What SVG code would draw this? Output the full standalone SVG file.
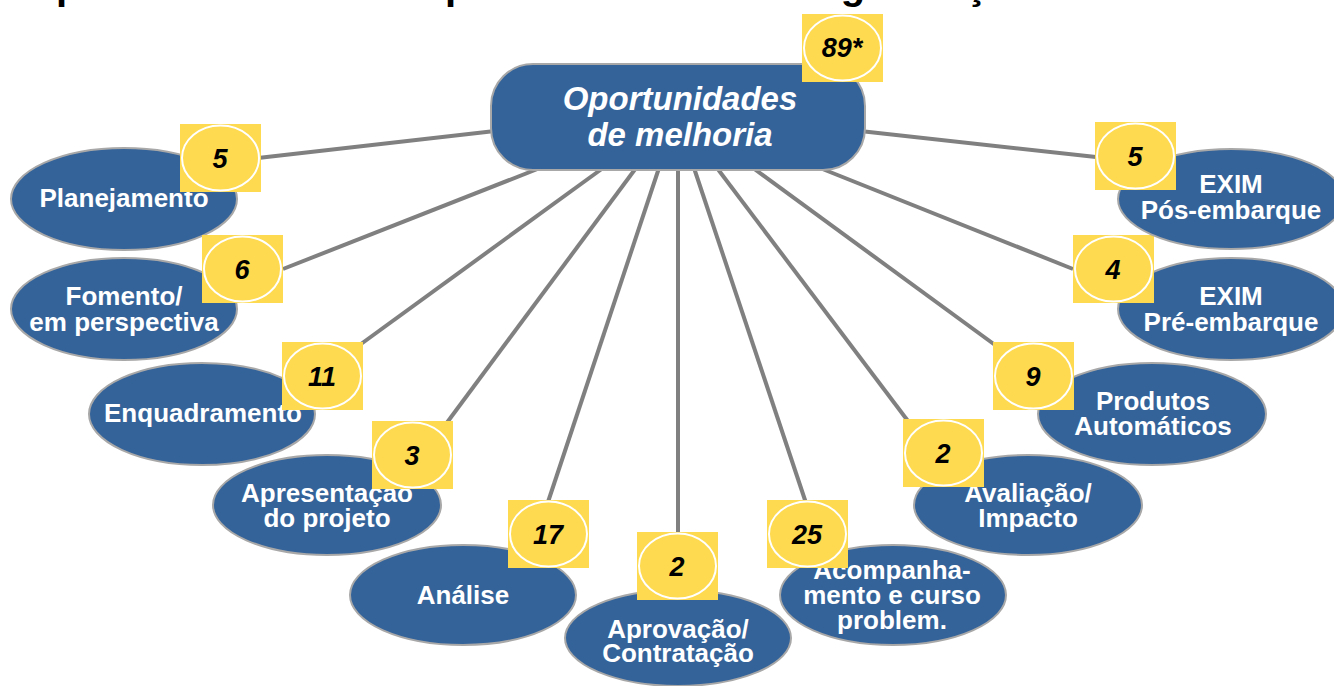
<svg xmlns="http://www.w3.org/2000/svg" width="1334" height="686" viewBox="0 0 1334 686">
<style>
.node{fill:#34639A;stroke:#A8A8A8;stroke-width:2}
.lbl{font-family:"Liberation Sans",Arial,sans-serif;font-weight:bold;font-size:26px;fill:#fff;text-anchor:middle}
.sq{fill:#FDDA50}
.ring{fill:none;stroke:#fff;stroke-width:2}
.num{font-family:"Liberation Sans",Arial,sans-serif;font-weight:bold;font-style:italic;font-size:27px;fill:#000;text-anchor:middle}
.conn line{stroke:#808080;stroke-width:4}
.title{font-family:"Liberation Sans",Arial,sans-serif;font-weight:bold;font-size:40px;fill:#000}
</style>
<rect width="1334" height="686" fill="#fff"/>
<text class="title" x="56" y="-1.5">para a melhoria dos procedimentos da organização</text>
<g id="connectors" class="conn">
<line x1="495" y1="131" x2="258" y2="158"/>
<line x1="545" y1="166" x2="283" y2="269"/>
<line x1="603" y1="168" x2="350" y2="352"/>
<line x1="636" y1="168" x2="440" y2="432"/>
<line x1="659" y1="168" x2="548" y2="502"/>
<line x1="678" y1="168" x2="678" y2="533"/>
<line x1="694" y1="168" x2="806" y2="503"/>
<line x1="717" y1="168" x2="914" y2="429"/>
<line x1="753" y1="168" x2="1006" y2="353"/>
<line x1="815" y1="166" x2="1073" y2="269"/>
<line x1="860" y1="131" x2="1096" y2="157"/>
</g>
<g id="center">
<rect class="node" x="491" y="64" width="374" height="106" rx="42"/>
<text class="lbl" x="680" y="110" style="font-size:33px;font-style:italic">Oportunidades</text>
<text class="lbl" x="680" y="146" style="font-size:33px;font-style:italic">de melhoria</text>
<rect class="sq" x="802" y="14" width="81" height="68"/>
<ellipse class="ring" cx="842.5" cy="48" rx="38.5" ry="32.5"/>
<text class="num" x="842" y="57">89*</text>
</g>
<g id="planejamento">
<ellipse class="node" cx="124" cy="199" rx="113" ry="51"/>
<text class="lbl" x="124" y="207">Planejamento</text>
<rect class="sq" x="180" y="124" width="81" height="68"/>
<ellipse class="ring" cx="220.5" cy="158" rx="38.5" ry="32.5"/>
<text class="num" x="220" y="168">5</text>
</g>
<g id="fomento">
<ellipse class="node" cx="124" cy="309" rx="113" ry="51"/>
<text class="lbl" x="124" y="305">Fomento/</text>
<text class="lbl" x="124" y="331">em perspectiva</text>
<rect class="sq" x="202" y="235" width="81" height="68"/>
<ellipse class="ring" cx="242.5" cy="269" rx="38.5" ry="32.5"/>
<text class="num" x="242" y="279">6</text>
</g>
<g id="enquadramento">
<ellipse class="node" cx="202" cy="414" rx="113" ry="51"/>
<text class="lbl" x="203" y="422">Enquadramento</text>
<rect class="sq" x="282" y="342" width="81" height="68"/>
<ellipse class="ring" cx="322.5" cy="376" rx="38.5" ry="32.5"/>
<text class="num" x="322" y="386">11</text>
</g>
<g id="apresentacao">
<ellipse class="node" cx="327" cy="505" rx="114" ry="50"/>
<text class="lbl" x="327" y="502">Apresentação</text>
<text class="lbl" x="327" y="527">do projeto</text>
<rect class="sq" x="372" y="421" width="81" height="68"/>
<ellipse class="ring" cx="412.5" cy="455" rx="38.5" ry="32.5"/>
<text class="num" x="412" y="465">3</text>
</g>
<g id="analise">
<ellipse class="node" cx="463" cy="595" rx="113" ry="50"/>
<text class="lbl" x="463" y="604">Análise</text>
<rect class="sq" x="508" y="500" width="81" height="68"/>
<ellipse class="ring" cx="548.5" cy="534" rx="38.5" ry="32.5"/>
<text class="num" x="548" y="544">17</text>
</g>
<g id="aprovacao">
<ellipse class="node" cx="678" cy="638" rx="113" ry="48"/>
<text class="lbl" x="678" y="638">Aprovação/</text>
<text class="lbl" x="678" y="662">Contratação</text>
<rect class="sq" x="637" y="532" width="81" height="68"/>
<ellipse class="ring" cx="677.5" cy="566" rx="38.5" ry="32.5"/>
<text class="num" x="677" y="576">2</text>
</g>
<g id="acompanhamento">
<ellipse class="node" cx="893" cy="595" rx="113" ry="50"/>
<text class="lbl" x="892" y="579">Acompanha-</text>
<text class="lbl" x="892" y="604">mento e curso</text>
<text class="lbl" x="892" y="629">problem.</text>
<rect class="sq" x="767" y="500" width="81" height="68"/>
<ellipse class="ring" cx="807.5" cy="534" rx="38.5" ry="32.5"/>
<text class="num" x="807" y="544">25</text>
</g>
<g id="avaliacao">
<ellipse class="node" cx="1028" cy="505" rx="114" ry="50"/>
<text class="lbl" x="1028" y="502">Avaliação/</text>
<text class="lbl" x="1028" y="527">Impacto</text>
<rect class="sq" x="903" y="419" width="81" height="68"/>
<ellipse class="ring" cx="943.5" cy="453" rx="38.5" ry="32.5"/>
<text class="num" x="943" y="463">2</text>
</g>
<g id="produtos">
<ellipse class="node" cx="1152" cy="414" rx="114" ry="51"/>
<text class="lbl" x="1153" y="410">Produtos</text>
<text class="lbl" x="1153" y="435">Automáticos</text>
<rect class="sq" x="993" y="342" width="81" height="68"/>
<ellipse class="ring" cx="1033.5" cy="376" rx="38.5" ry="32.5"/>
<text class="num" x="1033" y="386">9</text>
</g>
<g id="exim-pre">
<ellipse class="node" cx="1231" cy="309" rx="113" ry="51"/>
<text class="lbl" x="1231" y="305">EXIM</text>
<text class="lbl" x="1231" y="331">Pré-embarque</text>
<rect class="sq" x="1073" y="235" width="81" height="68"/>
<ellipse class="ring" cx="1113.5" cy="269" rx="38.5" ry="32.5"/>
<text class="num" x="1113" y="279">4</text>
</g>
<g id="exim-pos">
<ellipse class="node" cx="1231" cy="199" rx="113" ry="50"/>
<text class="lbl" x="1231" y="193">EXIM</text>
<text class="lbl" x="1231" y="219">Pós-embarque</text>
<rect class="sq" x="1095" y="122" width="81" height="68"/>
<ellipse class="ring" cx="1135.5" cy="156" rx="38.5" ry="32.5"/>
<text class="num" x="1135" y="166">5</text>
</g>
</svg>
